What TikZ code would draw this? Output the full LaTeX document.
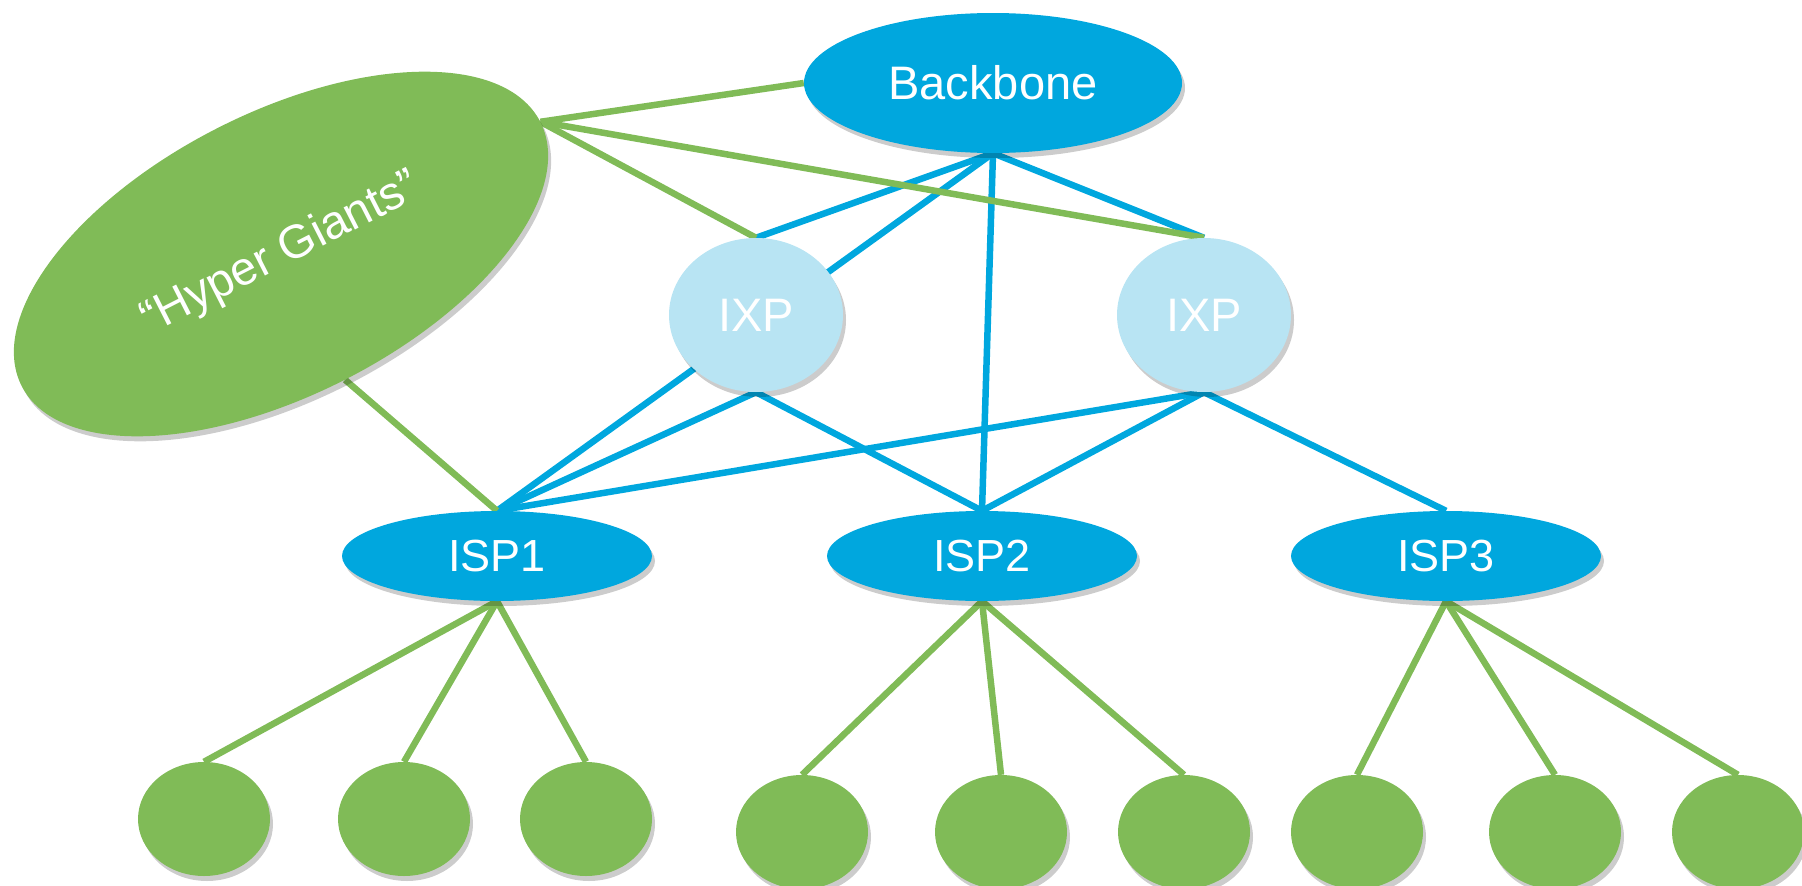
\documentclass[tikz,border=0pt]{standalone}
\usepackage{fontspec}
\setmainfont{Liberation Sans}
\usetikzlibrary{shapes.geometric,shadows}
\definecolor{hgreen}{RGB}{128,187,87}
\definecolor{hblue}{RGB}{0,167,222}
\definecolor{hlight}{RGB}{184,228,243}
\pgfdeclarelayer{bg}
\pgfsetlayers{bg,main}
\tikzset{
 shad/.style={drop shadow={shadow xshift=3pt,shadow yshift=-5pt,opacity=0.2,fill=black}},
 base/.style={ellipse, inner sep=0pt, text=white, font=\fontsize{47}{52}\selectfont, shad},
 bbnode/.style={base, fill=hblue, minimum width=378pt, minimum height=140pt},
 ixpnode/.style={base, fill=hlight, minimum width=174pt, minimum height=154pt},
 ispnode/.style={base, fill=hblue, minimum width=310pt, minimum height=90pt, font=\fontsize{45}{50}\selectfont},
 leafnode/.style={base, fill=hgreen, minimum width=132pt, minimum height=114pt},
 hgnode/.style={base, fill=hgreen, minimum width=582pt, minimum height=282pt, rotate=27},
 bluelink/.style={draw=hblue, line width=6.5pt},
 greenlink/.style={draw=hgreen, line width=6.5pt},
}
\begin{document}
\begin{tikzpicture}[x=1pt,y=-1pt]
\clip (0,0) rectangle (1802,886);
\useasboundingbox (0,0) rectangle (1802,886);
% nodes
\node[bbnode] (bb) at (993,83) {Backbone};
\node[hgnode] (hg) at (281,254) {“Hyper Giants”};
\node[ixpnode] (ixp1) at (756,315) {IXP};
\node[ixpnode] (ixp2) at (1204,315) {IXP};
\node[ispnode] (isp1) at (497,556) {ISP1};
\node[ispnode] (isp2) at (982,556) {ISP2};
\node[ispnode] (isp3) at (1446,556) {ISP3};
\node[leafnode] (l1) at (204,819) {};
\node[leafnode] (l2) at (404,819) {};
\node[leafnode] (l3) at (586,819) {};
\node[leafnode] (l4) at (802,832) {};
\node[leafnode] (l5) at (1001,832) {};
\node[leafnode] (l6) at (1184,832) {};
\node[leafnode] (l7) at (1357,832) {};
\node[leafnode] (l8) at (1555,832) {};
\node[leafnode] (l9) at (1738,832) {};
% connectors
\begin{pgfonlayer}{bg}
\draw[bluelink] (bb.south) -- (ixp1.north);
\draw[bluelink] (bb.south) -- (isp1.north);
\draw[bluelink] (bb.south) -- (isp2.north);
\draw[bluelink] (bb.south) -- (ixp2.north);
\draw[bluelink] (ixp1.south) -- (isp1.north);
\draw[bluelink] (ixp1.south) -- (isp2.north);
\draw[bluelink] (ixp2.south) -- (isp1.north);
\draw[bluelink] (ixp2.south) -- (isp2.north);
\draw[bluelink] (ixp2.south) -- (isp3.north);
\draw[greenlink] (hg.east) -- (bb.west);
\draw[greenlink] (hg.east) -- (ixp1.north);
\draw[greenlink] (hg.east) -- (ixp2.north);
\draw[greenlink] (hg.south) -- (isp1.north);
\draw[greenlink] (isp1.south) -- (l1.north);
\draw[greenlink] (isp1.south) -- (l2.north);
\draw[greenlink] (isp1.south) -- (l3.north);
\draw[greenlink] (isp2.south) -- (l4.north);
\draw[greenlink] (isp2.south) -- (l5.north);
\draw[greenlink] (isp2.south) -- (l6.north);
\draw[greenlink] (isp3.south) -- (l7.north);
\draw[greenlink] (isp3.south) -- (l8.north);
\draw[greenlink] (isp3.south) -- (l9.north);
\end{pgfonlayer}
\end{tikzpicture}
\end{document}
